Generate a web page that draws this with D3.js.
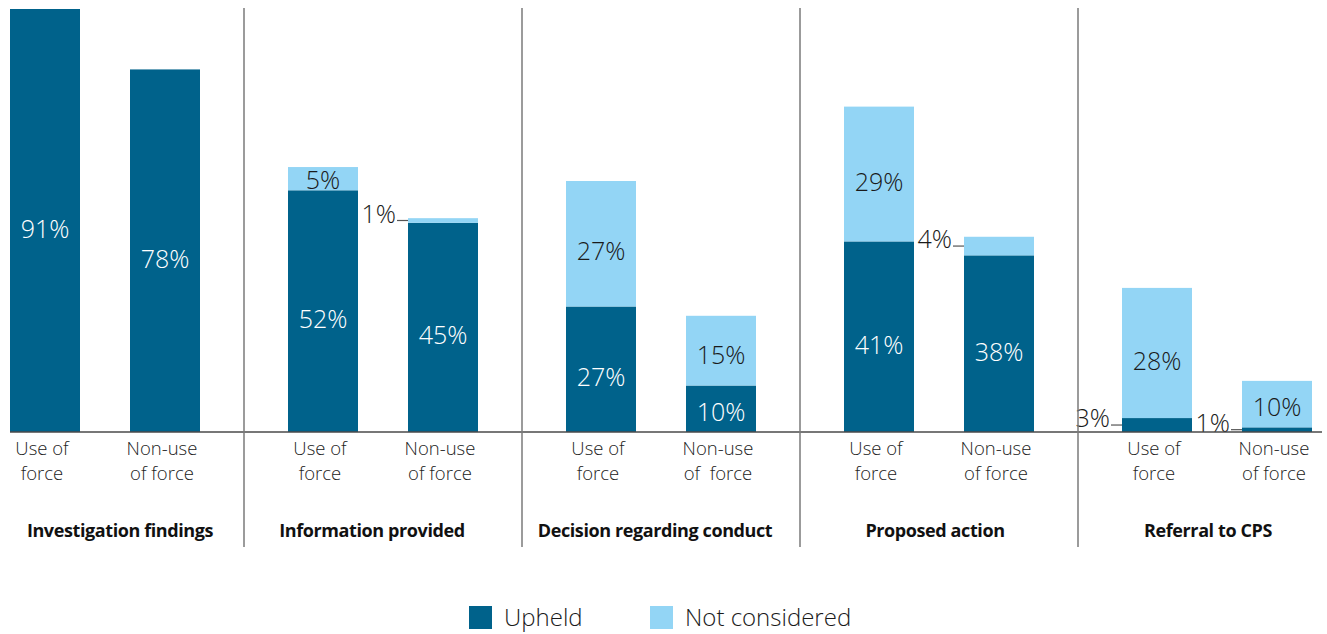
<!DOCTYPE html>
<html>
<head>
<meta charset="utf-8">
<script src="https://cdn.jsdelivr.net/npm/d3@7"></script>
<style>
  html, body { margin: 0; padding: 0; background: #fff; }
  svg { display: block; font-family: "Open Sans", sans-serif; }
</style>
</head>
<body>
<svg id="chart" width="1327" height="634"></svg>
<script>
// Outcome groups and the two case types within each
const groups = ["Investigation findings", "Information provided", "Decision regarding conduct", "Proposed action", "Referral to CPS"];
const caseTypes = ["Use of force", "Non-use of force"];
const caseLabels = [
  [["Use of", "force"], ["Non-use", "of force"]],
  [["Use of", "force"], ["Non-use", "of force"]],
  [["Use of", "force"], ["Non-use", "of  force"]],
  [["Use of", "force"], ["Non-use", "of force"]],
  [["Use of", "force"], ["Non-use", "of force"]]
];

// Percentages per group: [use of force, non-use of force]
const upheld = [[91, 78], [52, 45], [27, 10], [41, 38], [3, 1]];
const notConsidered = [[0, 0], [5, 1], [27, 15], [29, 4], [28, 10]];

const seriesNames = ["Upheld", "Not considered"];
const colors = { "Upheld": "#00628b", "Not considered": "#93d5f5" };

// Horizontal nudges for the group titles (px)
const titleNudge = [15, -11, -6, -4, -9];

const svg = d3.select("#chart");

const x0 = d3.scaleBand().domain(groups).range([-34, 1356]);
const x1 = d3.scaleBand().domain(caseTypes).range([44, 234]).paddingInner(50 / 120);
const y = d3.scaleLinear().domain([0, 91]).range([432, 9]);

// Flatten into stacked segments
const segments = [];
groups.forEach((g, gi) => {
  caseTypes.forEach((c, ci) => {
    const u = upheld[gi][ci];
    const n = notConsidered[gi][ci];
    segments.push({ g, c, series: "Upheld", y0: 0, y1: u, v: u });
    if (n > 0) segments.push({ g, c, series: "Not considered", y0: u, y1: u + n, v: n });
  });
});

const barX = d => x0(d.g) + x1(d.c);

svg.append("g").selectAll("rect").data(segments).join("rect")
  .attr("x", barX)
  .attr("width", x1.bandwidth())
  .attr("y", d => y(d.y1))
  .attr("height", d => y(d.y0) - y(d.y1))
  .attr("fill", d => colors[d.series]);

// Value labels: inside segments tall enough, otherwise to the left with a leader line
const inside = segments.filter(d => d.v >= 5);
const outside = segments.filter(d => d.v < 5);

svg.append("g").selectAll("text").data(inside).join("text")
  .attr("x", d => barX(d) + x1.bandwidth() / 2)
  .attr("y", d => {
    const h = y(d.y0) - y(d.y1);
    return (y(d.y0) + y(d.y1)) / 2 + Math.min(8, h * 0.06);
  })
  .attr("dy", "0.36em")
  .attr("text-anchor", "middle")
  .attr("font-size", 25)
  .attr("font-weight", 300)
  .attr("fill", d => d.series === "Upheld" ? "#fff" : "#1a1a1a")
  .text(d => d.v + "%");

const outG = svg.append("g");
outside.forEach(d => {
  const ym = (y(d.y0) + y(d.y1)) / 2;
  const bx = barX(d);
  outG.append("line")
    .attr("x1", bx - 11).attr("x2", bx)
    .attr("y1", ym).attr("y2", ym)
    .attr("stroke", "#555").attr("stroke-width", 1.2);
  outG.append("text")
    .attr("x", bx - 12)
    .attr("y", ym + 2)
    .attr("text-anchor", "end")
    .attr("font-size", 25)
    .attr("font-weight", 300)
    .attr("fill", "#1a1a1a")
    .text(d.v + "%");
});

// Baseline
svg.append("line")
  .attr("x1", 10).attr("x2", 1322)
  .attr("y1", y(0)).attr("y2", y(0))
  .attr("stroke", "#4a4a4a").attr("stroke-width", 1.5);

// Group separators
svg.append("g").selectAll("line").data(groups.slice(1)).join("line")
  .attr("x1", d => x0(d)).attr("x2", d => x0(d))
  .attr("y1", 8).attr("y2", 547)
  .attr("stroke", "#7a7a7a").attr("stroke-width", 1.5);

// Case type labels under each bar
groups.forEach((g, gi) => {
  caseTypes.forEach((c, ci) => {
    const cx = x0(g) + x1(c) + x1.bandwidth() / 2 - 3;
    const t = svg.append("text")
      .attr("text-anchor", "middle")
      .attr("font-size", 18.5)
      .attr("font-weight", 300)
      .attr("fill", "#222")
      .style("white-space", "pre");
    caseLabels[gi][ci].forEach((line, li) => {
      t.append("tspan")
        .attr("x", cx)
        .attr("y", 455 + li * 25)
        .text(line);
    });
  });
});

// Group titles
svg.append("g").selectAll("text").data(groups).join("text")
  .attr("x", (d, i) => x0(d) + x0.bandwidth() / 2 + titleNudge[i])
  .attr("y", 537)
  .attr("text-anchor", "middle")
  .attr("font-size", 18)
  .attr("font-weight", 700)
  .attr("letter-spacing", -0.4)
  .attr("fill", "#111")
  .text(d => d);

// Legend
const legendX = [469, 650];
const legend = svg.append("g").selectAll("g").data(seriesNames).join("g")
  .attr("transform", (d, i) => `translate(${legendX[i]},606)`);
legend.append("rect").attr("width", 23).attr("height", 23).attr("fill", d => colors[d]);
legend.append("text")
  .attr("x", 35).attr("y", 20)
  .attr("font-size", 24)
  .attr("font-weight", 300)
  .attr("fill", "#1a1a1a")
  .text(d => d);
</script>
</body>
</html>
